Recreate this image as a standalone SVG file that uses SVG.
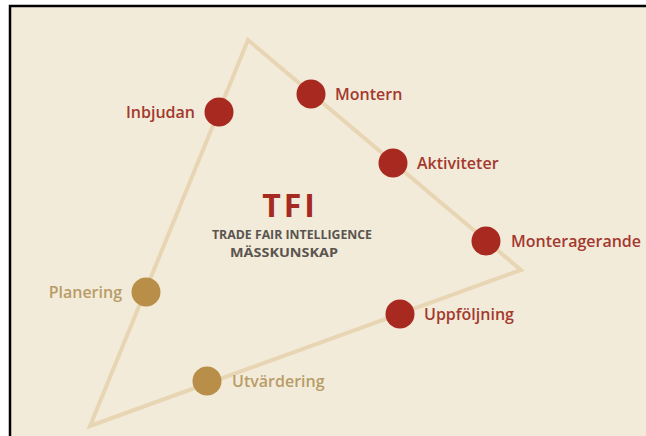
<svg xmlns="http://www.w3.org/2000/svg" width="646" height="436" viewBox="0 0 646 436">
<style>
.lbl{font-family:"Open Sans","Liberation Sans",sans-serif;font-weight:600;font-size:16px}
.red{fill:#a3392f}
.gold{fill:#b89c68}
.dr{fill:#a8291f}
.dg{fill:#b88e49}
.edge{stroke:#e7d5b4;stroke-width:4;fill:none;stroke-linejoin:miter}
.sub{font-family:"Open Sans","Liberation Sans",sans-serif;font-weight:700;font-size:11.5px;fill:#5a5550}
</style>
<rect x="0" y="0" width="646" height="436" fill="#ffffff"/>
<rect x="10" y="6" width="636" height="430" fill="#f3ebd9"/>
<path d="M10,437 V6 H646" stroke="#000" stroke-width="2.5" fill="none"/>
<g id="connectors">
<polygon class="edge" points="248,40 521,270 90,426"/>
</g>
<g id="title">
<text x="290" y="217" text-anchor="middle" font-family="Open Sans, Liberation Sans, sans-serif" font-weight="700" font-size="32" letter-spacing="3" fill="#a52a22">TFI</text>
<text class="sub" x="292" y="239" text-anchor="middle" textLength="160" lengthAdjust="spacingAndGlyphs">TRADE FAIR INTELLIGENCE</text>
<text class="sub" x="284" y="257" text-anchor="middle" textLength="108" lengthAdjust="spacingAndGlyphs">MÄSSKUNSKAP</text>
</g>
<g id="inbjudan"><circle class="dr" cx="219" cy="112" r="14.5"/><text class="lbl red" x="195" y="118" text-anchor="end">Inbjudan</text></g>
<g id="montern"><circle class="dr" cx="311" cy="94" r="14.5"/><text class="lbl red" x="335" y="100">Montern</text></g>
<g id="aktiviteter"><circle class="dr" cx="393" cy="163" r="14.5"/><text class="lbl red" x="417" y="169">Aktiviteter</text></g>
<g id="monteragerande"><circle class="dr" cx="486" cy="241" r="14.5"/><text class="lbl red" x="511" y="247">Monteragerande</text></g>
<g id="uppfoljning"><circle class="dr" cx="400" cy="314" r="14.5"/><text class="lbl red" x="424" y="320">Uppföljning</text></g>
<g id="planering"><circle class="dg" cx="146" cy="292" r="14.5"/><text class="lbl gold" x="122" y="298" text-anchor="end">Planering</text></g>
<g id="utvardering"><circle class="dg" cx="207" cy="381" r="14.5"/><text class="lbl gold" x="232" y="387">Utvärdering</text></g>
</svg>
